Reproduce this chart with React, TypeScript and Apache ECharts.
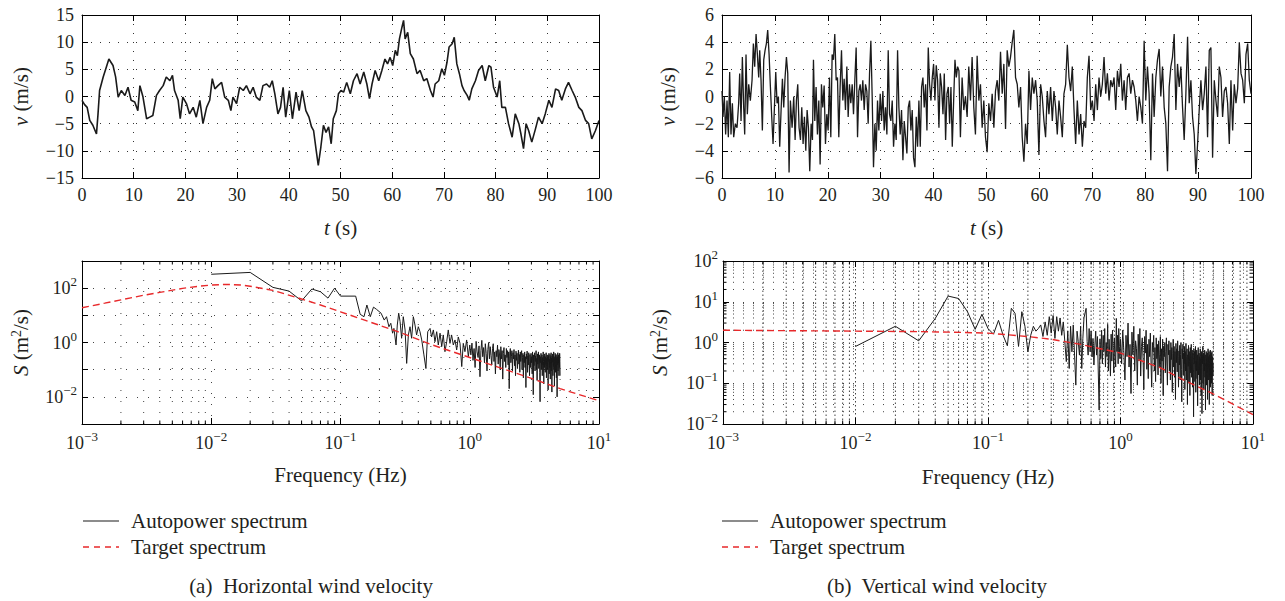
import React, { useEffect, useRef } from 'react';
import * as echarts from 'echarts';

const FONT = '"Liberation Serif", "DejaVu Serif", serif';
const INK = '#231f20';
const RED = '#e8292b';

// ---------- (a) horizontal wind velocity time history [t (s), v (m/s)] ----------
const horizWind: [number, number][] = [
  [0,-0.7],[0.5,-1.5],[1.0,-2.0],[1.5,-4.4],[2.1,-5.3],[2.8,-6.9],[3.1,-3.2],[3.4,1.1],[4.1,3.6],[4.7,5.4],
  [5.2,6.9],[6.0,5.7],[6.5,3.6],[7.0,-0.1],[7.6,1.1],[8.3,0.2],[8.9,1.7],[9.5,-0.7],[10.2,-1.0],[10.8,-2.6],
  [11.2,2.0],[11.8,-0.1],[12.5,-4.1],[13.1,-3.8],[13.7,-3.5],[14.4,0.2],[15.0,1.1],[15.7,2.0],[16.3,3.6],[17.0,2.9],
  [17.5,3.9],[17.9,1.1],[18.6,-0.7],[19.0,-4.1],[19.5,-0.1],[20.2,-1.3],[20.8,-3.2],[21.5,-2.0],[22.1,-3.8],[22.8,-0.7],
  [23.4,-5.0],[24.1,-2.0],[24.7,-0.7],[25.2,3.3],[25.7,1.4],[26.3,2.0],[27.0,2.6],[27.6,-0.1],[28.3,-0.7],[28.8,-2.6],
  [29.2,-0.1],[29.9,-1.3],[30.5,1.7],[31.2,1.1],[31.8,2.0],[32.5,0.5],[33.1,1.7],[33.7,-0.1],[34.4,-0.7],[35.0,2.0],
  [35.7,2.3],[36.3,1.7],[36.8,2.9],[37.3,0.5],[37.9,-3.2],[38.4,-2.0],[38.9,1.7],[39.4,-3.8],[40.1,1.1],[40.7,-4.1],
  [41.4,0.8],[42.0,-2.6],[42.6,1.1],[43.3,-2.6],[43.9,-3.8],[44.4,-5.6],[44.8,-6.3],[45.3,-9.9],[45.7,-12.7],[46.2,-9.3],
  [46.7,-5.3],[47.2,-6.6],[47.7,-5.6],[48.2,-8.7],[48.6,-4.1],[49.2,-2.6],[49.6,0.5],[50.1,1.1],[50.6,0.8],[51.2,2.6],
  [51.9,0.5],[52.5,2.9],[53.2,4.2],[53.8,2.3],[54.5,4.5],[55.1,2.3],[55.6,-0.4],[56.1,2.3],[56.7,4.8],[57.4,2.9],
  [58.0,4.8],[58.6,6.9],[59.1,6.0],[59.6,7.2],[60.1,5.7],[60.6,8.5],[61.0,7.5],[61.4,10.6],[61.9,12.8],[62.2,14.0],
  [62.5,10.6],[63.0,11.8],[63.5,7.9],[64.1,6.9],[64.8,4.2],[65.4,4.8],[66.1,2.9],[66.7,3.3],[67.4,1.1],[67.9,-0.1],
  [68.3,2.3],[69.0,2.9],[69.6,5.1],[70.1,3.9],[70.6,6.3],[71.0,9.1],[71.6,9.7],[72.0,10.9],[72.5,6.0],[73.0,4.2],
  [73.5,2.0],[73.9,1.1],[74.5,0.2],[74.9,-0.7],[75.4,1.4],[76.1,2.9],[76.7,4.8],[77.4,5.7],[78.0,2.9],[78.7,5.7],
  [79.1,5.4],[79.6,1.7],[80.3,-0.1],[80.8,2.9],[81.2,-2.0],[81.9,-2.0],[82.5,-5.0],[83.2,-7.5],[83.8,-3.2],[84.5,-5.0],
  [84.9,-6.9],[85.4,-9.6],[85.9,-5.0],[86.4,-6.3],[87.0,-8.4],[87.7,-6.0],[88.3,-3.8],[89.0,-5.0],[89.6,-3.2],[90.3,-0.7],
  [90.9,-2.0],[91.6,1.4],[92.2,1.1],[92.8,-0.7],[93.5,1.4],[94.1,2.6],[94.8,1.1],[95.4,-0.1],[96.1,-2.0],[96.7,-2.6],
  [97.4,-4.4],[98.0,-5.0],[98.6,-7.8],[99.3,-6.3],[100,-4.4]
];

// ---------- (b) vertical wind velocity time history [t (s), v (m/s)] ----------
const vertWind: [number, number][] = [
  [0,0.4],[0.19,-1.5],[0.44,0],[0.69,-2.8],[0.95,-0.3],[1.2,-3.0],[1.45,1.8],[1.7,-2.8],[1.96,-0.5],[2.21,-3.0],
  [2.52,-2.0],[2.84,-2.3],[3.15,-0.5],[3.34,1.7],[3.6,-1.8],[3.85,2.9],[4.1,-0.8],[4.29,-2.8],[4.54,3.1],[4.79,-1.3],
  [5.05,0.9],[5.36,-0.3],[5.68,1.2],[5.93,3.9],[6.18,2.2],[6.44,4.6],[6.69,3.1],[6.94,1.4],[7.13,3.4],[7.38,1.2],
  [7.63,-2.5],[7.89,2.7],[8.14,3.4],[8.39,3.9],[8.64,4.9],[8.9,3.1],[9.15,0.7],[9.4,-1.5],[9.65,-3.5],[9.91,-0.8],
  [10.16,1.8],[10.41,-0.5],[10.66,0],[10.91,-3.7],[11.17,-1.0],[11.42,1.3],[11.67,-0.8],[11.92,1.4],[12.18,2.9],[12.43,1.7],
  [12.68,-5.6],[12.93,-0.3],[13.25,-2.3],[13.56,0],[13.82,-3.2],[14.07,-0.3],[14.32,0.9],[14.57,-2.3],[14.83,-3.2],[15.08,-0.8],
  [15.33,-3.5],[15.58,-1.5],[15.84,-4.0],[16.09,-1.0],[16.34,-2.3],[16.59,-5.5],[16.85,-2.0],[17.1,-3.2],[17.29,2.7],[17.54,-1.8],
  [17.79,0.7],[18.04,-2.8],[18.3,-0.3],[18.55,-5.0],[18.8,0.9],[19.05,-0.8],[19.31,0.8],[19.56,-3.5],[19.81,-1.3],[20.06,-2.5],
  [20.32,1.4],[20.57,-3.0],[20.82,3.1],[21.07,2.7],[21.32,4.6],[21.58,1.2],[21.83,1.4],[22.08,-3.0],[22.33,0.7],[22.59,3.4],
  [22.84,-0.3],[23.09,1.3],[23.34,-1.0],[23.6,2.2],[23.85,-1.5],[24.1,0.9],[24.35,-0.5],[24.61,0.9],[24.86,-1.3],[25.11,1.2],
  [25.36,3.6],[25.62,-3.0],[25.87,0.4],[26.12,0.9],[26.37,-0.3],[26.62,1.2],[26.88,-1.0],[27.13,0.9],[27.38,0.4],[27.63,-2.0],
  [27.89,1.7],[28.14,4.1],[28.39,0],[28.64,-5.2],[28.9,-2.0],[29.15,-4.0],[29.4,-0.3],[29.65,-2.5],[29.91,0.2],[30.16,-1.8],
  [30.41,0.4],[30.66,-2.5],[30.91,-0.8],[31.17,-2.8],[31.42,3.4],[31.67,-1.3],[31.92,-1.8],[32.18,-0.3],[32.43,-3.7],[32.68,-2.0],
  [32.93,-3.2],[33.19,3.4],[33.44,-0.8],[33.69,-2.8],[33.94,-1.0],[34.2,-4.7],[34.45,-1.8],[34.7,-3.0],[34.95,-4.2],[35.21,-0.8],
  [35.46,-0.3],[35.71,-2.5],[35.96,-1.0],[36.21,-4.5],[36.47,-5.2],[36.72,-1.5],[36.97,-3.7],[37.22,-0.3],[37.48,-3.7],[37.73,0.7],
  [37.98,1.4],[38.23,-0.8],[38.49,0.9],[38.74,-2.5],[38.99,3.6],[39.24,0.9],[39.5,-0.3],[39.75,1.4],[40.0,2.4],[40.25,-0.3],
  [40.5,2.3],[40.76,1.2],[41.01,-2.3],[41.26,1.7],[41.51,0.7],[41.77,-1.3],[42.02,1.7],[42.27,-3.2],[42.52,0.2],[42.78,0.7],
  [43.03,-2.0],[43.28,0.7],[43.53,-3.7],[43.79,-0.3],[44.04,2.7],[44.29,1.4],[44.54,2.2],[44.79,1.9],[45.07,-3.0],[45.39,1.4],
  [45.71,-1.0],[46.02,0],[46.34,-1.5],[46.65,2.2],[46.97,-0.3],[47.28,2.9],[47.6,-0.8],[47.91,-2.8],[48.23,3.0],[48.55,-0.3],
  [48.86,0.9],[49.18,-2.3],[49.49,-0.3],[49.81,-3.0],[50.12,-4.1],[50.44,-0.5],[50.76,-1.8],[51.07,0.2],[51.39,-2.3],[51.7,0.4],
  [52.02,1.2],[52.33,-0.3],[52.65,3.3],[52.97,0.2],[53.28,2.4],[53.6,-2.4],[53.91,3.4],[54.23,2.2],[54.54,2.9],[54.86,4.0],
  [55.17,4.9],[55.49,1.4],[55.81,0.9],[56.12,-0.8],[56.44,0.7],[56.75,-3.0],[57.07,-4.8],[57.38,-2.0],[57.7,-3.5],[58.02,1.9],
  [58.33,-1.0],[58.65,1.4],[58.96,0.2],[59.28,1.2],[59.59,-0.3],[59.91,-4.3],[60.23,0.9],[60.54,0],[60.86,-1.8],[61.17,-3.0],
  [61.49,0.4],[61.8,-1.3],[62.12,0.7],[62.44,-1.8],[62.75,0.4],[63.07,-0.8],[63.38,-2.8],[63.7,-0.3],[64.01,-1.5],[64.33,-3.0],
  [64.64,0.2],[64.96,0.9],[65.28,3.8],[65.59,1.4],[65.91,0.4],[66.22,2.2],[66.54,-1.0],[66.85,-3.5],[67.17,-0.3],[67.49,-2.8],
  [67.8,-1.3],[68.12,-3.7],[68.43,-1.8],[68.75,-2.3],[69.06,1.4],[69.38,3.0],[69.7,-1.0],[70.01,-0.3],[70.33,-1.8],[70.64,0.9],
  [70.96,-1.0],[71.27,1.4],[71.59,0],[71.9,0.9],[72.22,2.9],[72.54,0.2],[72.85,1.7],[73.17,-0.3],[73.48,1.2],[73.8,0.7],
  [74.11,1.4],[74.43,-1.0],[74.75,1.9],[75.06,0.7],[75.38,2.4],[75.69,-0.3],[76.01,1.2],[76.32,-1.0],[76.64,1.4],[76.96,1.7],
  [77.27,0.2],[77.59,1.2],[77.9,0.7],[78.22,-0.3],[78.53,-1.8],[78.85,0],[79.17,-0.8],[79.48,-2.0],[79.8,4.1],[80.11,-0.3],
  [80.43,2.2],[80.74,0.2],[81.06,-4.7],[81.38,1.7],[81.69,-1.5],[82.01,1.4],[82.32,2.7],[82.64,3.5],[82.95,0],[83.27,2.2],
  [83.59,-0.8],[83.9,-2.0],[84.22,-5.5],[84.53,0.7],[84.85,2.2],[85.16,2.9],[85.48,4.6],[85.8,-1.0],[86.11,2.4],[86.43,0.7],
  [86.74,2.2],[87.06,-0.8],[87.37,-3.2],[87.69,0.2],[88.01,4.4],[88.32,-0.5],[88.64,1.2],[88.95,-1.5],[89.27,-2.8],[89.58,-5.7],
  [89.9,-3.5],[90.21,-1.0],[90.53,1.2],[90.85,-1.0],[91.16,0.2],[91.48,2.2],[91.79,-3.0],[92.11,3.4],[92.42,3.6],[92.74,-4.5],
  [93.06,1.2],[93.37,-0.3],[93.69,-1.5],[94.0,2.2],[94.32,1.4],[94.63,-1.5],[94.95,0.4],[95.27,0.7],[95.58,-0.5],[95.9,-3.5],
  [96.21,1.2],[96.53,-2.5],[96.84,0.9],[97.16,-0.5],[97.48,0.6],[97.79,4.0],[98.11,1.7],[98.42,1.2],[98.74,-0.5],[99.05,3.1],
  [99.37,3.9],[99.68,1.2],[100,0.2]
];

// ---------- (a) spectra: [f (Hz), S (m^2/s)] ----------
const horizAutoLow: [number, number][] = [
  [0.01,325],[0.02,380],[0.03,107],[0.04,78],[0.05,34],[0.06,93],[0.07,74],[0.08,43],[0.09,100],[0.10,51],
  [0.131,51],[0.142,10.9],[0.152,8.9],[0.16,24],[0.17,8.9],[0.18,20],[0.19,16.6],[0.206,12],[0.218,6.7],[0.227,8.9],
  [0.237,3.8],[0.245,5.1],[0.253,2.2],[0.259,3.3],[0.269,0.81],[0.275,4.4],[0.282,12],[0.289,5.9],[0.297,1.43],[0.306,8.9],
  [0.316,2.9],[0.325,0.17],[0.335,1.9],[0.345,3.8],[0.355,1.43],[0.366,8.9],[0.377,4.4],[0.388,1.9],[0.400,3.8],[0.412,2.5],
  [0.425,1.24],[0.442,0.35],[0.458,0.11],[0.473,2.5],[0.493,3.3],[0.507,1.6],[0.523,2.9],[0.538,1.07],[0.555,2.5],[0.571,0.81],
  [0.589,2.2],[0.607,0.71],[0.624,1.9],[0.643,0.46],[0.663,1.07],[0.682,2.9],[0.703,0.93],[0.724,1.9],[0.746,0.81],[0.769,1.24],
  [0.792,0.53],[0.815,1.6],[0.841,0.93],[0.867,0.13],[0.891,0.93],[0.918,0.46],[0.946,1.24],[0.975,0.30]
];
// 1.00 Hz to 5.00 Hz, one value every BAND_STEP Hz
const horizAutoBand: number[] = [
  0.81,0.35,0.95,0.22,0.6,0.12,1.1,0.45,0.28,0.75,0.055,0.5,1.2,0.3,0.65,0.18,0.9,0.4,0.09,0.55,1.0,0.25,0.7,0.33,0.15,
  0.6,0.9,0.2,0.45,0.07,0.5,0.3,0.8,0.16,0.55,0.38,0.1,0.7,0.25,0.5,0.045,0.4,0.65,0.2,0.35,0.12,0.6,0.28,0.5,0.15,
  0.45,0.02,0.38,0.6,0.18,0.3,0.5,0.09,0.42,0.25,0.55,0.14,0.35,0.06,0.48,0.22,0.4,0.11,0.3,0.52,0.16,0.36,0.08,0.45,0.2,
  0.33,0.5,0.1,0.28,0.4,0.05,0.35,0.18,0.45,0.12,0.3,0.022,0.38,0.25,0.48,0.08,0.32,0.15,0.42,0.2,0.06,0.36,0.27,0.12,0.4,
  0.18,0.3,0.07,0.45,0.22,0.012,0.35,0.14,0.28,0.42,0.09,0.32,0.2,0.5,0.1,0.26,0.04,0.38,0.16,0.3,0.45,0.11,0.24,0.35,0.08,
  0.0066,0.3,0.18,0.4,0.1,0.25,0.35,0.06,0.28,0.15,0.45,0.2,0.03,0.32,0.12,0.38,0.22,0.08,0.3,0.16,0.42,0.05,0.26,0.14,0.35,
  0.1,0.28,0.018,0.33,0.2,0.4,0.07,0.24,0.12,0.36,0.045,0.3,0.17,0.42,0.09,0.27,0.015,0.32,0.19,0.38,0.06,0.22,0.13,0.45,0.1,
  0.3,0.025,0.26,0.16,0.4,0.08,0.33,0.12,0.36,0.05,0.22,0.28,0.01,0.3,0.15,0.42,0.09,0.25,0.18,0.35,0.06,0.28,0.12,0.4,0.2,0.06
];
const horizTarget: [number, number][] = [
  [0.001,19],[0.0015,28],[0.002,37],[0.003,55],[0.004,70],[0.006,98],[0.008,118],[0.01,130],[0.013,138],[0.017,130],
  [0.02,118],[0.03,83],[0.05,40],[0.07,24],[0.1,13.5],[0.2,4.3],[0.3,2.2],[0.5,0.85],[1,0.28],[2,0.092],[3,0.048],[5,0.02],[10,0.0072]
];

// ---------- (b) spectra: [f (Hz), S (m^2/s)] ----------
const vertAutoLow: [number, number][] = [
  [0.01,0.80],[0.02,2.5],[0.03,1.1],[0.04,3.9],[0.05,13.8],[0.06,12],[0.07,5.7],[0.08,2.1],[0.09,4.9],[0.10,2.2],
  [0.11,1.6],[0.12,3.5],[0.13,1.5],[0.14,0.83],[0.15,6.9],[0.16,5.2],[0.17,0.8],[0.18,5.7],[0.19,2.5],[0.20,0.59],
  [0.21,1.5],[0.22,2.5],[0.23,1.9],[0.24,2.2],[0.25,2.7],[0.26,1.4],[0.27,3.2],[0.28,1.5],[0.29,4.3],[0.30,1.7],
  [0.31,4.6],[0.32,1.26],[0.33,4.3],[0.34,1.9],[0.35,4.0],[0.36,1.5],[0.37,3.2],[0.38,1.05],[0.39,0.34],[0.40,1.9],
  [0.41,0.23],[0.42,2.5],[0.43,0.59],[0.44,2.7],[0.45,0.49],[0.46,0.09],[0.47,1.9],[0.48,1.05],[0.49,0.49],[0.50,2.5],
  [0.51,0.23],[0.52,1.26],[0.53,4.0],[0.55,6.9],[0.56,1.05],[0.57,0.49],[0.58,2.2],[0.59,0.59],[0.60,1.9],[0.61,0.44],
  [0.62,1.26],[0.63,0.28],[0.64,0.83],[0.65,1.9],[0.66,0.49],[0.67,1.4],[0.69,0.022],[0.70,1.2],[0.71,0.4],[0.72,2.0],
  [0.73,0.3],[0.74,1.5],[0.75,0.6],[0.76,2.2],[0.77,0.25],[0.78,1.0],[0.79,0.45],[0.80,2.8],[0.81,0.2],[0.82,1.2],
  [0.83,0.5],[0.84,0.15],[0.85,1.6],[0.86,0.35],[0.87,2.0],[0.88,0.7],[0.89,0.18],[0.90,1.3],[0.91,0.5],[0.92,0.25],
  [0.93,3.9],[0.94,0.6],[0.95,1.5],[0.96,0.3],[0.97,2.2],[0.98,0.8],[0.99,0.4]
];
const vertAutoBand: number[] = [
  1.2,0.3,2.0,0.6,0.12,1.5,0.45,3.0,0.25,0.9,0.056,1.8,0.5,2.5,0.2,1.1,0.7,0.09,1.6,0.35,2.2,0.15,0.8,1.3,0.4,
  0.07,1.4,0.55,2.0,0.22,0.9,0.13,1.2,0.45,1.7,0.3,0.08,1.0,0.6,1.5,0.2,0.75,0.11,1.3,0.4,0.9,0.16,1.1,0.5,0.25,
  1.4,0.1,0.7,0.35,1.2,0.05,0.8,0.45,1.0,0.18,0.6,1.3,0.28,0.09,0.9,0.5,1.1,0.2,0.65,0.12,1.0,0.38,0.75,0.06,0.55,
  1.2,0.25,0.8,0.14,0.6,0.04,0.95,0.32,0.7,0.19,1.1,0.45,0.08,0.62,0.28,0.85,0.12,0.5,1.0,0.22,0.035,0.7,0.4,0.9,0.16,
  0.55,0.3,0.8,0.07,0.6,0.2,0.95,0.12,0.45,0.7,0.03,0.5,0.26,0.85,0.1,0.6,0.35,0.05,0.75,0.18,0.5,0.9,0.14,0.4,0.65,
  0.08,0.55,0.25,0.015,0.7,0.3,0.6,0.11,0.45,0.8,0.06,0.35,0.2,0.65,0.13,0.5,0.028,0.4,0.75,0.16,0.3,0.55,0.09,0.45,0.22,
  0.7,0.12,0.4,0.05,0.6,0.25,0.018,0.5,0.3,0.8,0.1,0.35,0.55,0.07,0.45,0.2,0.65,0.14,0.3,0.022,0.5,0.27,0.6,0.09,0.4,
  0.18,0.55,0.04,0.35,0.7,0.12,0.45,0.25,0.6,0.03,0.3,0.5,0.15,0.65,0.08,0.4,0.22,0.55,0.1,0.35,0.6,0.05,0.3,0.45,0.15,0.3
];
const vertTarget: [number, number][] = [
  [0.001,2.0],[0.01,1.9],[0.03,1.85],[0.05,1.8],[0.1,1.7],[0.2,1.4],[0.3,1.2],[0.5,0.9],[1,0.55],[2,0.24],[3,0.12],[5,0.055],[10,0.017]
];

const BAND_START = 1.0;
const BAND_STEP = 0.02;

// axis ranges / legend / captions
const T_RANGE = [0, 100, 10];
const VH_RANGE = [-15, 15, 5];
const VV_RANGE = [-6, 6, 2];
const F_RANGE = [0.001, 10];
const SH_RANGE = [0.001, 1000];
const SV_RANGE = [0.01, 100];
const MINOR_MULT = [2, 3, 4, 5, 6, 7, 8, 9];
const LEGEND_LABELS = ['Autopower spectrum', 'Target spectrum'];
const CAPTIONS = ['(a)  Horizontal wind velocity', '(b)  Vertical wind velocity'];

const withBand = (low: [number, number][], band: number[]) =>
  low.concat(band.map((s, i) => [+(BAND_START + i * BAND_STEP).toFixed(2), s] as [number, number]));

const minors = (lo: number, hi: number) => {
  const out: number[] = [];
  for (let d = lo; d < hi * 0.999; d *= 10) MINOR_MULT.forEach((m) => out.push(+(m * d).toPrecision(3)));
  return out;
};

const minusFmt = (v: number) => String(v).replace('-', '\u2212');
const powFmt = (evenOnly: boolean) => (v: number) => {
  const e = Math.round(Math.log10(v));
  if (evenOnly && e % 2 !== 0) return '';
  return '10{sup|' + (e < 0 ? '\u2212' + -e : String(e)) + '}';
};

const supRich = { sup: { fontSize: 13, lineHeight: 13, verticalAlign: 'top', fontFamily: FONT, color: INK } };
const nameRich = {
  i: { fontStyle: 'italic', fontSize: 21, fontFamily: FONT, color: INK },
  sup: { fontSize: 14, lineHeight: 12, verticalAlign: 'top', fontFamily: FONT, color: INK },
};

const tick = { show: true, inside: true, length: 6, lineStyle: { color: '#000', width: 1 } };
const line = { show: true, onZero: false, lineStyle: { color: '#000', width: 1 } };

function linAxis(grid: number, pos: string, r: number[], main: boolean, extra: any = {}) {
  return {
    type: 'value', gridIndex: grid, position: pos, min: r[0], max: r[1], interval: r[2],
    axisLine: line, axisTick: tick,
    axisLabel: main ? { show: true, fontFamily: FONT, fontSize: 18, color: INK, margin: 8, formatter: minusFmt } : { show: false },
    splitLine: main ? { show: true, lineStyle: { color: '#333', width: 1, type: [1, 8] } } : { show: false },
    ...extra,
  };
}
function logAxis(grid: number, pos: string, r: number[], main: boolean, dash: number[], evenOnly: boolean, extra: any = {}) {
  return {
    type: 'log', logBase: 10, gridIndex: grid, position: pos, min: r[0], max: r[1],
    axisLine: line, axisTick: tick,
    axisLabel: main
      ? { show: true, fontFamily: FONT, fontSize: 18, color: INK, lineHeight: 26, margin: pos === 'bottom' ? 6 : 5, formatter: powFmt(evenOnly), rich: supRich }
      : { show: false },
    splitLine: main ? { show: true, lineStyle: { color: '#444', width: 1, type: dash } } : { show: false },
    ...extra,
  };
}
const xName = (name: string, gap: number) => ({
  name, nameLocation: 'middle', nameGap: gap,
  nameTextStyle: { fontFamily: FONT, fontSize: 21, color: INK, lineHeight: 24, rich: nameRich },
});
const yName = (name: string, gap: number) => ({
  name, nameLocation: 'middle', nameGap: gap, nameRotate: 90,
  nameTextStyle: { fontFamily: FONT, fontSize: 21, color: INK, lineHeight: 24, rich: nameRich },
});

function vMinor(yLo: number, yHi: number, dash: number[] | null, tickLen: number) {
  return (_p: any, api: any) => {
    const x = api.value(0);
    const a = api.coord([x, yLo]);
    const b = api.coord([x, yHi]);
    const ch: any[] = [];
    if (dash) ch.push({ type: 'line', shape: { x1: a[0], y1: a[1], x2: b[0], y2: b[1] }, style: { stroke: '#444', lineWidth: 1, lineDash: dash } });
    ch.push({ type: 'line', shape: { x1: a[0], y1: a[1], x2: a[0], y2: a[1] - tickLen }, style: { stroke: '#000', lineWidth: 1 } });
    ch.push({ type: 'line', shape: { x1: b[0], y1: b[1], x2: b[0], y2: b[1] + tickLen }, style: { stroke: '#000', lineWidth: 1 } });
    return { type: 'group', children: ch };
  };
}
function hMinor(xLo: number, xHi: number, dash: number[] | null, tickLen: number) {
  return (_p: any, api: any) => {
    const y = api.value(1);
    const a = api.coord([xLo, y]);
    const b = api.coord([xHi, y]);
    const ch: any[] = [];
    if (dash) ch.push({ type: 'line', shape: { x1: a[0], y1: a[1], x2: b[0], y2: b[1] }, style: { stroke: '#444', lineWidth: 1, lineDash: dash } });
    ch.push({ type: 'line', shape: { x1: a[0], y1: a[1], x2: a[0] + tickLen, y2: a[1] }, style: { stroke: '#000', lineWidth: 1 } });
    ch.push({ type: 'line', shape: { x1: b[0], y1: b[1], x2: b[0] - tickLen, y2: b[1] }, style: { stroke: '#000', lineWidth: 1 } });
    return { type: 'group', children: ch };
  };
}

function legendBlock(x: number) {
  const textStyle = { fontFamily: FONT, fontSize: 21, fill: INK, textVerticalAlign: 'middle', textAlign: 'left' };
  return [
    { type: 'line', shape: { x1: x, y1: 521, x2: x + 36, y2: 521 }, style: { stroke: '#1a1a1a', lineWidth: 1.2 } },
    { type: 'text', x: x + 48, y: 521, style: { text: LEGEND_LABELS[0], ...textStyle } },
    { type: 'line', shape: { x1: x, y1: 547, x2: x + 36, y2: 547 }, style: { stroke: RED, lineWidth: 1.4, lineDash: [6, 5] } },
    { type: 'text', x: x + 48, y: 547, style: { text: LEGEND_LABELS[1], ...textStyle } },
  ];
}

export default function App() {
  const ref = useRef<HTMLDivElement>(null);
  useEffect(() => {
    if (!ref.current) return;
    const chart = echarts.init(ref.current, undefined, { renderer: 'svg' });
    const minorF = minors(F_RANGE[0], F_RANGE[1]);
    const minorSV = minors(SV_RANGE[0], SV_RANGE[1]);
    const autoStyle = { color: '#1a1a1a', width: 1 };
    const targetStyle = { color: RED, width: 1.4, type: [7, 4] };
    const capStyle = { fontFamily: FONT, fontSize: 21, fill: INK, textAlign: 'center', textVerticalAlign: 'middle' };
    const option: any = {
      animation: false,
      backgroundColor: '#fff',
      grid: [
        { left: 82, top: 15, width: 517, height: 163 },
        { left: 722, top: 15, width: 529, height: 163 },
        { left: 82, top: 261, width: 517, height: 163 },
        { left: 723, top: 261, width: 530, height: 163 },
      ],
      xAxis: [
        linAxis(0, 'bottom', T_RANGE, true, xName('{i|t} (s)', 38)),
        linAxis(0, 'top', T_RANGE, false),
        linAxis(1, 'bottom', T_RANGE, true, xName('{i|t} (s)', 38)),
        linAxis(1, 'top', T_RANGE, false),
        logAxis(2, 'bottom', F_RANGE, true, [1, 10], false, xName('Frequency (Hz)', 39)),
        logAxis(2, 'top', F_RANGE, false, [1, 10], false),
        logAxis(3, 'bottom', F_RANGE, true, [1.5, 2.5], false, xName('Frequency (Hz)', 41)),
        logAxis(3, 'top', F_RANGE, false, [1.5, 2.5], false),
      ],
      yAxis: [
        linAxis(0, 'left', VH_RANGE, true, yName('{i|v} (m/s)', 49)),
        linAxis(0, 'right', VH_RANGE, false),
        linAxis(1, 'left', VV_RANGE, true, yName('{i|v} (m/s)', 42)),
        linAxis(1, 'right', VV_RANGE, false),
        logAxis(2, 'left', SH_RANGE, true, [1, 10], true, yName('{i|S} (m{sup|2}/s)', 49)),
        logAxis(2, 'right', SH_RANGE, false, [1, 10], true),
        logAxis(3, 'left', SV_RANGE, true, [1, 9], false, yName('{i|S} (m{sup|2}/s)', 51)),
        logAxis(3, 'right', SV_RANGE, false, [1, 9], false),
      ],
      graphic: [
        ...legendBlock(83),
        ...legendBlock(722),
        { type: 'text', x: 311, y: 586, style: { text: CAPTIONS[0], ...capStyle } },
        { type: 'text', x: 937, y: 586, style: { text: CAPTIONS[1], ...capStyle } },
      ],
      series: [
        { type: 'custom', xAxisIndex: 4, yAxisIndex: 4, z: 1, silent: true, clip: false, encode: { x: 0, y: 1 },
          data: minorF.map((f) => [f, SH_RANGE[0]]), renderItem: vMinor(SH_RANGE[0], SH_RANGE[1], [1, 10], 3.5) },
        { type: 'custom', xAxisIndex: 6, yAxisIndex: 6, z: 1, silent: true, clip: false, encode: { x: 0, y: 1 },
          data: minorF.map((f) => [f, SV_RANGE[0]]), renderItem: vMinor(SV_RANGE[0], SV_RANGE[1], [1.5, 2.5], 3.5) },
        { type: 'custom', xAxisIndex: 6, yAxisIndex: 6, z: 1, silent: true, clip: false, encode: { x: 0, y: 1 },
          data: minorSV.map((s) => [F_RANGE[0], s]), renderItem: hMinor(F_RANGE[0], F_RANGE[1], [1, 9], 3.5) },
        { name: 'Horizontal wind', type: 'line', xAxisIndex: 0, yAxisIndex: 0, data: horizWind, symbol: 'none', lineStyle: { color: '#1a1a1a', width: 1.6 }, z: 3 },
        { name: 'Vertical wind', type: 'line', xAxisIndex: 2, yAxisIndex: 2, data: vertWind, symbol: 'none', lineStyle: { color: '#1a1a1a', width: 1.3 }, z: 3 },
        { name: LEGEND_LABELS[0], type: 'line', xAxisIndex: 4, yAxisIndex: 4, data: withBand(horizAutoLow, horizAutoBand), symbol: 'none', color: '#1a1a1a', lineStyle: autoStyle, z: 3 },
        { name: LEGEND_LABELS[1], type: 'line', xAxisIndex: 4, yAxisIndex: 4, data: horizTarget, symbol: 'none', color: RED, lineStyle: targetStyle, z: 4 },
        { name: LEGEND_LABELS[0], type: 'line', xAxisIndex: 6, yAxisIndex: 6, data: withBand(vertAutoLow, vertAutoBand), symbol: 'none', color: '#1a1a1a', lineStyle: autoStyle, z: 3 },
        { name: LEGEND_LABELS[1], type: 'line', xAxisIndex: 6, yAxisIndex: 6, data: vertTarget, symbol: 'none', color: RED, lineStyle: targetStyle, z: 4 },
      ],
    };
    chart.setOption(option);
    return () => chart.dispose();
  }, []);
  return <div ref={ref} style={{ position: 'absolute', left: 0, top: 0, width: 1285, height: 601, background: '#fff' }} />;
}
